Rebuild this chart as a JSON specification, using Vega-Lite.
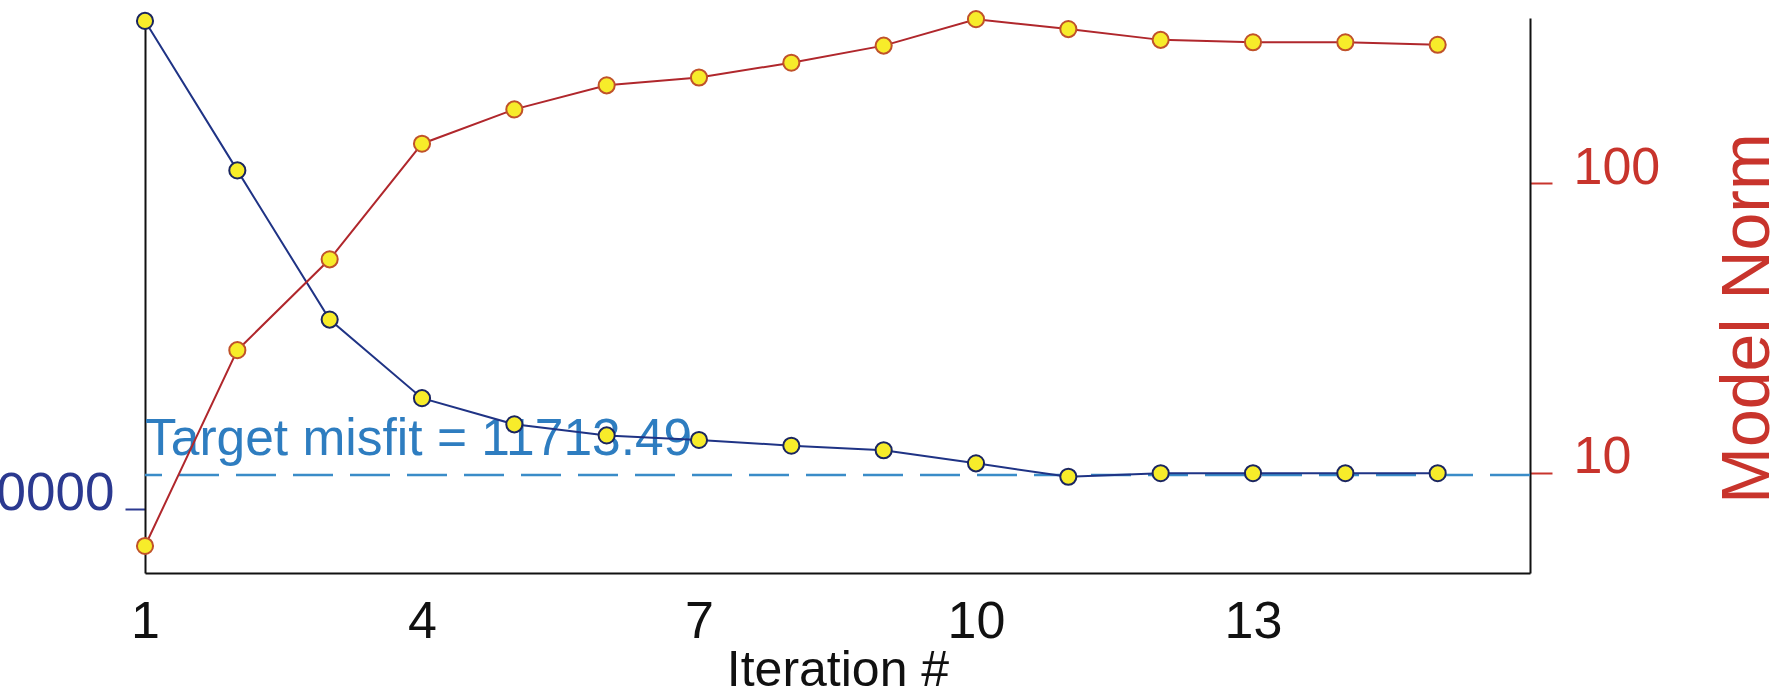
{
  "$schema": "https://vega.github.io/schema/vega-lite/v6.json",
  "width": 1385,
  "height": 555,
  "autosize": {"type": "none"},
  "padding": {"left": 145, "top": 18, "right": 253, "bottom": 119},
  "background": "#ffffff",
  "config": {
    "font": "Liberation Sans",
    "view": {"stroke": null},
    "axis": {"grid": false, "domainColor": "#111111", "domainWidth": 2, "labelFont": "Liberation Sans", "titleFont": "Liberation Sans", "titleFontWeight": "normal"}
  },
  "data": {
    "values": [
      {"iter": 1, "misfit": 95300, "norm": 5.58},
      {"iter": 2, "misfit": 47800, "norm": 26.5},
      {"iter": 3, "misfit": 24000, "norm": 54.6},
      {"iter": 4, "misfit": 16700, "norm": 137},
      {"iter": 5, "misfit": 14800, "norm": 180},
      {"iter": 6, "misfit": 14060, "norm": 218},
      {"iter": 7, "misfit": 13770, "norm": 232},
      {"iter": 8, "misfit": 13410, "norm": 261},
      {"iter": 9, "misfit": 13130, "norm": 299},
      {"iter": 10, "misfit": 12360, "norm": 369},
      {"iter": 11, "misfit": 11620, "norm": 341},
      {"iter": 12, "misfit": 11810, "norm": 313},
      {"iter": 13, "misfit": 11810, "norm": 307},
      {"iter": 14, "misfit": 11810, "norm": 307},
      {"iter": 15, "misfit": 11810, "norm": 301}
    ]
  },
  "layer": [
    {
      "layer": [
        {
          "data": {"values": [{"misfit": 11713.49, "label": "Target misfit = 11713.49"}]},
          "mark": {"type": "rule", "color": "#3A8CC8", "strokeWidth": 2.5, "strokeDash": [40, 17]},
          "encoding": {
            "y": {"field": "misfit", "type": "quantitative", "scale": {"type": "log", "domain": [7450, 96600], "nice": false},
              "axis": {"orient": "left", "values": [10000], "format": "d", "tickSize": 20, "tickWidth": 2, "tickColor": "#2B3990", "labelColor": "#2B3990", "labelFontSize": 53, "labelPadding": 11, "labelBaseline": "alphabetic", "title": null}}
          }
        },
        {
          "data": {"values": [{"misfit": 11713.49, "label": "Target misfit = 11713.49"}]},
          "mark": {"type": "text", "color": "#2E7DC0", "fontSize": 51.5, "align": "left", "baseline": "alphabetic", "dy": -20},
          "encoding": {
            "x": {"datum": 1, "type": "quantitative", "scale": {"domain": [1, 16], "nice": false, "zero": false}},
            "y": {"field": "misfit", "type": "quantitative", "scale": {"type": "log", "domain": [7450, 96600], "nice": false},
              "axis": {"orient": "left", "values": [10000], "format": "d", "tickSize": 20, "tickWidth": 2, "tickColor": "#2B3990", "labelColor": "#2B3990", "labelFontSize": 53, "labelPadding": 11, "labelBaseline": "alphabetic", "title": null}},
            "text": {"field": "label"}
          }
        },
        {
          "mark": {"type": "line", "color": "#1F3385", "strokeWidth": 2},
          "encoding": {
            "x": {"field": "iter", "type": "quantitative", "scale": {"domain": [1, 16], "nice": false, "zero": false},
              "axis": {"values": [1, 4, 7, 10, 13], "format": "d", "ticks": false, "labelFontSize": 52, "labelColor": "#111111", "labelPadding": 23, "labelFlush": false, "title": "Iteration #", "titleFontSize": 50, "titleColor": "#111111", "titlePadding": -2}},
            "y": {"field": "misfit", "type": "quantitative", "scale": {"type": "log", "domain": [7450, 96600], "nice": false},
              "axis": {"orient": "left", "values": [10000], "format": "d", "tickSize": 20, "tickWidth": 2, "tickColor": "#2B3990", "labelColor": "#2B3990", "labelFontSize": 53, "labelPadding": 11, "labelBaseline": "alphabetic", "title": null}}
          }
        },
        {
          "mark": {"type": "point", "shape": "circle", "filled": true, "fill": "#F7EC2A", "stroke": "#1A2560", "strokeWidth": 2, "size": 260, "opacity": 1},
          "encoding": {
            "x": {"field": "iter", "type": "quantitative", "scale": {"domain": [1, 16], "nice": false, "zero": false}},
            "y": {"field": "misfit", "type": "quantitative", "scale": {"type": "log", "domain": [7450, 96600], "nice": false},
              "axis": {"orient": "left", "values": [10000], "format": "d", "tickSize": 20, "tickWidth": 2, "tickColor": "#2B3990", "labelColor": "#2B3990", "labelFontSize": 53, "labelPadding": 11, "labelBaseline": "alphabetic", "title": null}}
          }
        }
      ]
    },
    {
      "layer": [
        {
          "mark": {"type": "line", "color": "#B0272C", "strokeWidth": 2},
          "encoding": {
            "x": {"field": "iter", "type": "quantitative", "scale": {"domain": [1, 16], "nice": false, "zero": false}},
            "y": {"field": "norm", "type": "quantitative", "scale": {"type": "log", "domain": [4.5, 372.5], "nice": false},
              "axis": {"orient": "right", "values": [10, 100], "format": "d", "tickSize": 22, "tickWidth": 2, "tickColor": "#C8342C", "labelColor": "#C8342C", "labelFontSize": 52, "labelPadding": 21, "labelBaseline": "alphabetic", "title": "Model Norm", "titleColor": "#C8342C", "titleFontSize": 68, "titleAngle": 270, "titleX": 218, "titleY": 300, "titleAlign": "center", "titleBaseline": "middle"}}
          }
        },
        {
          "mark": {"type": "point", "shape": "circle", "filled": true, "fill": "#F7EC2A", "stroke": "#C0522A", "strokeWidth": 2, "size": 260, "opacity": 1},
          "encoding": {
            "x": {"field": "iter", "type": "quantitative", "scale": {"domain": [1, 16], "nice": false, "zero": false}},
            "y": {"field": "norm", "type": "quantitative", "scale": {"type": "log", "domain": [4.5, 372.5], "nice": false},
              "axis": {"orient": "right", "values": [10, 100], "format": "d", "tickSize": 22, "tickWidth": 2, "tickColor": "#C8342C", "labelColor": "#C8342C", "labelFontSize": 52, "labelPadding": 21, "labelBaseline": "alphabetic", "title": "Model Norm", "titleColor": "#C8342C", "titleFontSize": 68, "titleAngle": 270, "titleX": 218, "titleY": 300, "titleAlign": "center", "titleBaseline": "middle"}}
          }
        }
      ]
    }
  ],
  "resolve": {"scale": {"y": "independent"}}
}
